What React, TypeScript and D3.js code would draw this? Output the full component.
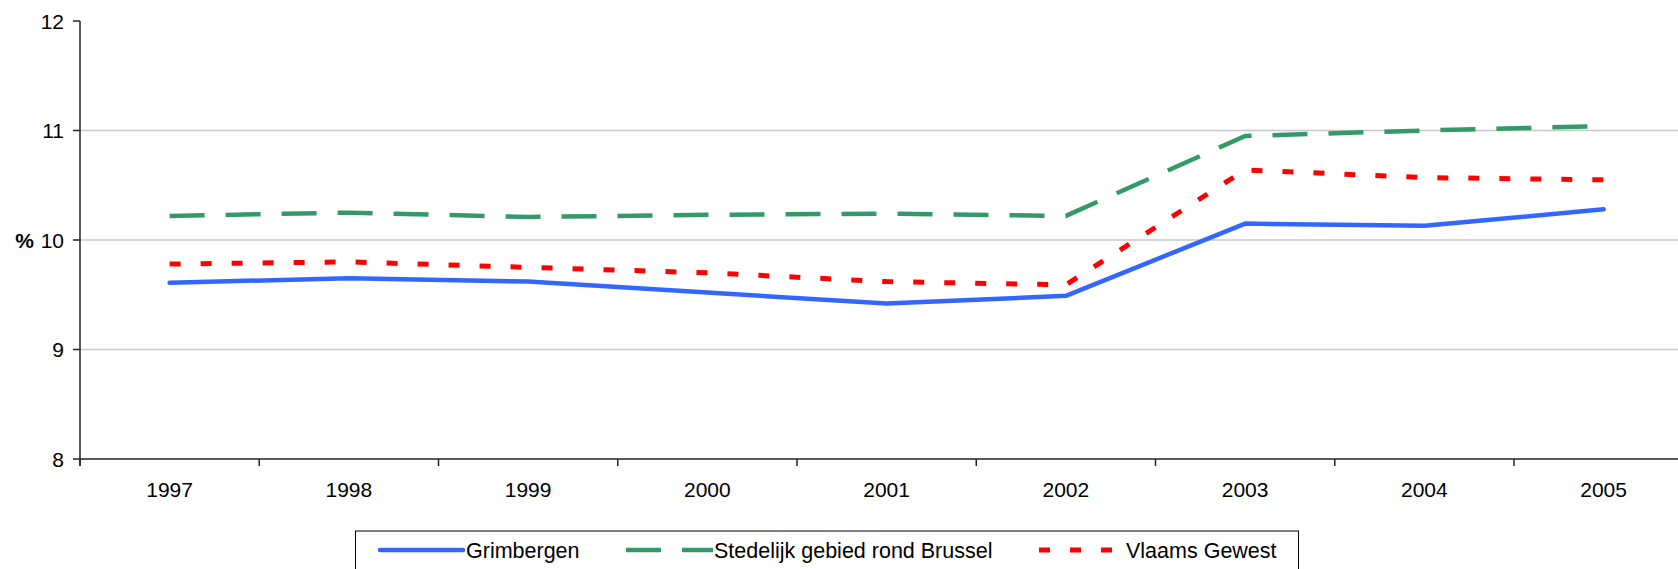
import React from "react";
import * as d3 from "d3";

const years = ["1997", "1998", "1999", "2000", "2001", "2002", "2003", "2004", "2005"];
const grimbergen = [9.61, 9.65, 9.62, 9.52, 9.42, 9.49, 10.15, 10.13, 10.28];
const stedelijk = [10.22, 10.25, 10.21, 10.23, 10.24, 10.22, 10.95, 11.0, 11.04];
const vlaams = [9.78, 9.8, 9.75, 9.7, 9.62, 9.59, 10.64, 10.57, 10.55];
const yTicks = [8, 9, 10, 11, 12];
const gridValues = [9, 10, 11];
const seriesNames = ["Grimbergen", "Stedelijk gebied rond Brussel", "Vlaams Gewest"];

const W = 1678;
const H = 569;
const FONT = "Arial, 'Liberation Sans', sans-serif";

export default function App() {
  const x = d3.scaleBand<string>().domain(years).range([80, 80 + 9 * 179.25]).paddingInner(0).paddingOuter(0);
  const y = d3.scaleLinear().domain([8, 12]).range([459, 21]);
  const cx = (yr: string) => (x(yr) as number) + x.bandwidth() / 2;
  const line = d3
    .line<number>()
    .x((_, i) => cx(years[i]))
    .y((v) => y(v));

  const series = [
    { name: seriesNames[0], data: grimbergen, color: "#3366FF", width: 4.5, dash: "" },
    { name: seriesNames[1], data: stedelijk, color: "#339966", width: 4.5, dash: "35 21" },
    { name: seriesNames[2], data: vlaams, color: "#FF0000", width: 5, dash: "11 20" },
  ];

  const boundaries = d3.range(0, years.length + 1).map((i) => 80 + i * x.bandwidth());

  const legendItems = [
    { x1: 380, x2: 463, tx: 466 },
    { x1: 626, x2: 713, tx: 714 },
    { x1: 1039, x2: 1112, tx: 1126 },
  ];

  return (
    <svg
      width={W}
      height={H}
      style={{ position: "absolute", left: 0, top: 0, background: "#fff" }}
      fontFamily={FONT}
    >
      <rect x={0} y={0} width={W} height={H} fill="#fff" />
      {gridValues.map((v) => (
        <line key={"g" + v} x1={80} x2={W} y1={y(v)} y2={y(v)} stroke="#C8C8C8" strokeWidth={1.5} />
      ))}
      {/* y axis */}
      <line x1={80} x2={80} y1={y(12)} y2={466} stroke="#222" strokeWidth={1.5} />
      {yTicks.map((v) => (
        <g key={"yt" + v}>
          <line x1={73} x2={80} y1={y(v)} y2={y(v)} stroke="#222" strokeWidth={1.5} />
          <text x={64} y={y(v)} dy="0.36em" textAnchor="end" fontSize={21} fill="#000">
            {v}
          </text>
        </g>
      ))}
      <text x={34} y={y(10)} dy="0.36em" textAnchor="end" fontSize={21} fontWeight="bold" fill="#000">
        %
      </text>
      {/* x axis */}
      <line x1={80} x2={W} y1={y(8)} y2={y(8)} stroke="#222" strokeWidth={1.5} />
      {boundaries.map((b, i) => (
        <line key={"xt" + i} x1={b} x2={b} y1={y(8)} y2={466} stroke="#222" strokeWidth={1.5} />
      ))}
      {years.map((yr) => (
        <text key={"xl" + yr} x={cx(yr)} y={489} dy="0.36em" textAnchor="middle" fontSize={21} fill="#000">
          {yr}
        </text>
      ))}
      {/* series */}
      {series.map((s) => (
        <path
          key={s.name}
          d={line(s.data) || ""}
          fill="none"
          stroke={s.color}
          strokeWidth={s.width}
          strokeDasharray={s.dash || undefined}
          strokeLinecap={s.dash ? "butt" : "round"}
          strokeLinejoin="round"
        />
      ))}
      {/* legend */}
      <rect x={355.5} y={531} width={943} height={60} fill="#fff" stroke="#000" strokeWidth={1} />
      {series.map((s, i) => (
        <g key={"lg" + s.name}>
          <line
            x1={legendItems[i].x1}
            x2={legendItems[i].x2}
            y1={550}
            y2={550}
            stroke={s.color}
            strokeWidth={s.width}
            strokeDasharray={s.dash || undefined}
            strokeLinecap={s.dash ? "butt" : "round"}
          />
          <text x={legendItems[i].tx} y={550} dy="0.36em" fontSize={21.5} fill="#000">
            {s.name}
          </text>
        </g>
      ))}
    </svg>
  );
}
